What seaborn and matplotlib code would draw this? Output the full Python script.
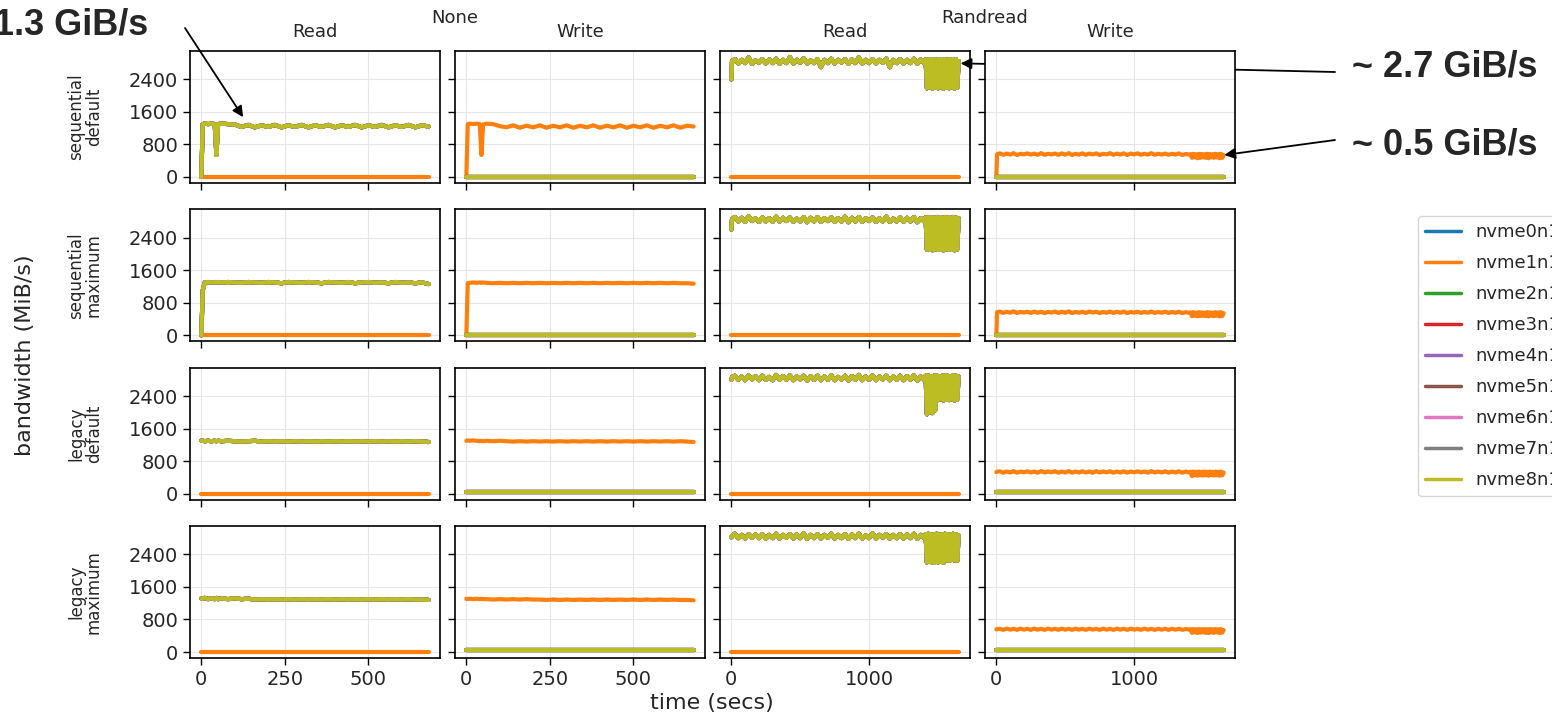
import matplotlib
matplotlib.use("Agg")
import matplotlib.pyplot as plt
import numpy as np
import pandas as pd
import seaborn as sns
from matplotlib.lines import Line2D

# ---------------- data ----------------
DEVICES = ["nvme0n1", "nvme1n1", "nvme2n1", "nvme3n1", "nvme4n1",
           "nvme5n1", "nvme6n1", "nvme7n1", "nvme8n1"]
WRITER = "nvme1n1"
ROW_LABELS = ["sequential\ndefault", "sequential\nmaximum", "legacy\ndefault", "legacy\nmaximum"]
COL_LABELS = ["Read", "Write", "Read", "Write"]
GROUP_LABELS = ["None", "Randread"]
YTICKS = [0, 800, 1600, 2400]
XTICKS_NONE = [0, 250, 500]
XTICKS_RR = [0, 1000]

# sample times (secs)
T_NONE = [0, 4, 10, 20, 30, 40, 45, 50] + list(range(60, 681, 20))
T_RR = [0, 5] + list(range(25, 1401, 25)) + list(range(1410, 1651, 10))
T_IDLE_NONE = [0, 680]
T_IDLE_RR = [0, 1650]
IDLE_ZERO = [0, 0]
IDLE_LOW = [40, 40]

# --- "None" group, MiB/s ---
SEQ_DEF_NONE_READ = [0, 1300, 1310, 1300, 1310, 1300, 540, 1300,
                     1310, 1300, 1290, 1230, 1280, 1220, 1270, 1230,
                     1280, 1220, 1270, 1230, 1280, 1220, 1270, 1230,
                     1280, 1220, 1270, 1230, 1280, 1220, 1270, 1230,
                     1280, 1220, 1270, 1230, 1280, 1220, 1270, 1240]
SEQ_DEF_NONE_WRITE = [0, 1300, 1310, 1300, 1310, 1300, 540, 1290,
                      1310, 1300, 1250, 1220, 1270, 1210, 1260, 1220,
                      1270, 1210, 1260, 1220, 1270, 1210, 1260, 1220,
                      1270, 1210, 1260, 1220, 1270, 1210, 1260, 1220,
                      1270, 1210, 1260, 1220, 1270, 1210, 1260, 1240]
SEQ_MAX_NONE_READ = [0, 1100, 1300, 1310, 1300, 1310, 1300, 1310,
                     1300, 1310, 1300, 1290, 1310, 1300, 1290, 1310,
                     1300, 1280, 1310, 1300, 1290, 1310, 1300, 1280,
                     1310, 1300, 1290, 1310, 1280, 1300, 1310, 1290,
                     1300, 1280, 1310, 1290, 1300, 1280, 1300, 1260]
SEQ_MAX_NONE_WRITE = [0, 1280, 1290, 1300, 1290, 1300, 1290, 1300,
                      1290, 1280, 1290, 1280, 1290, 1280, 1290, 1280,
                      1290, 1280, 1290, 1280, 1290, 1280, 1290, 1280,
                      1290, 1280, 1290, 1280, 1290, 1280, 1290, 1280,
                      1290, 1280, 1290, 1280, 1290, 1280, 1280, 1270]
LEG_DEF_NONE_READ = [1310, 1300, 1290, 1300, 1290, 1300, 1290, 1300,
                     1290, 1300, 1290, 1280, 1290, 1300, 1280, 1290,
                     1280, 1290, 1280, 1290, 1280, 1290, 1280, 1290,
                     1280, 1290, 1280, 1290, 1280, 1290, 1280, 1290,
                     1280, 1290, 1280, 1290, 1280, 1290, 1280, 1270]
LEG_DEF_NONE_WRITE = [1300, 1310, 1300, 1310, 1300, 1290, 1300, 1290,
                      1300, 1290, 1300, 1290, 1280, 1290, 1280, 1290,
                      1280, 1290, 1280, 1290, 1280, 1290, 1280, 1290,
                      1280, 1290, 1280, 1290, 1280, 1290, 1280, 1290,
                      1280, 1290, 1280, 1290, 1280, 1290, 1280, 1270]
LEG_MAX_NONE_READ = [1320, 1310, 1330, 1300, 1320, 1300, 1330, 1300,
                     1320, 1300, 1320, 1300, 1310, 1290, 1300, 1290,
                     1300, 1290, 1300, 1290, 1300, 1290, 1300, 1290,
                     1300, 1290, 1300, 1290, 1300, 1290, 1300, 1290,
                     1300, 1290, 1300, 1290, 1300, 1290, 1290, 1280]
LEG_MAX_NONE_WRITE = [1310, 1300, 1310, 1300, 1310, 1300, 1310, 1300,
                      1300, 1290, 1300, 1290, 1300, 1290, 1300, 1290,
                      1290, 1280, 1290, 1280, 1290, 1280, 1290, 1280,
                      1290, 1280, 1290, 1280, 1290, 1280, 1290, 1280,
                      1290, 1280, 1290, 1280, 1290, 1280, 1280, 1270]

# --- "Randread" group, MiB/s ---
SEQ_DEF_RR_READ = [2400, 2850,
                   2900, 2790, 2880, 2800, 2940, 2780, 2870, 2810,
                   2900, 2790, 2890, 2800, 2910, 2780, 2880, 2800,
                   2950, 2790, 2880, 2810, 2920, 2790, 2870, 2800,
                   2900, 2700, 2880, 2800, 2910, 2790, 2880, 2810,
                   2900, 2780, 2890, 2800, 2940, 2790, 2880, 2800,
                   2900, 2790, 2880, 2810, 2910, 2700, 2880, 2800,
                   2900, 2790, 2880, 2800, 2910, 2780, 2890, 2800,
                   2890, 2180, 2900, 2200, 2880, 2170, 2900, 2190,
                   2890, 2180, 2900, 2200, 2880, 2170, 2900, 2190,
                   2890, 2180, 2900, 2200, 2880, 2170, 2900, 2190, 2850]
SEQ_MAX_RR_READ = [2600, 2860,
                   2910, 2800, 2890, 2790, 2930, 2810, 2880, 2790,
                   2900, 2800, 2880, 2790, 2920, 2800, 2890, 2810,
                   2900, 2790, 2870, 2800, 2910, 2780, 2890, 2800,
                   2910, 2790, 2880, 2810, 2900, 2790, 2880, 2800,
                   2920, 2780, 2890, 2800, 2910, 2790, 2880, 2810,
                   2900, 2790, 2880, 2800, 2920, 2790, 2870, 2800,
                   2900, 2790, 2890, 2800, 2910, 2780, 2880, 2800,
                   2900, 2100, 2910, 2120, 2890, 2090, 2900, 2110,
                   2910, 2100, 2890, 2120, 2900, 2090, 2910, 2110,
                   2900, 2100, 2890, 2120, 2910, 2090, 2900, 2110, 2880]
LEG_DEF_RR_READ = [2800, 2870,
                   2900, 2800, 2880, 2790, 2910, 2810, 2890, 2790,
                   2900, 2800, 2870, 2790, 2920, 2800, 2890, 2800,
                   2910, 2790, 2880, 2810, 2900, 2780, 2890, 2800,
                   2900, 2790, 2880, 2800, 2910, 2790, 2870, 2810,
                   2900, 2780, 2890, 2800, 2920, 2790, 2880, 2800,
                   2910, 2790, 2880, 2810, 2900, 2790, 2880, 2800,
                   2900, 2790, 2890, 2800, 2910, 2780, 2880, 2800,
                   2900, 1950, 2910, 2000, 2890, 1980, 2900, 2050,
                   2910, 2300, 2890, 2320, 2900, 2290, 2910, 2310,
                   2900, 2300, 2890, 2320, 2910, 2290, 2900, 2310, 2880]
LEG_MAX_RR_READ = [2820, 2860,
                   2910, 2800, 2880, 2790, 2900, 2810, 2890, 2800,
                   2900, 2790, 2880, 2800, 2910, 2790, 2880, 2810,
                   2900, 2790, 2890, 2800, 2920, 2780, 2880, 2800,
                   2900, 2790, 2880, 2810, 2910, 2790, 2880, 2800,
                   2900, 2780, 2890, 2800, 2910, 2790, 2870, 2800,
                   2920, 2790, 2880, 2810, 2900, 2790, 2880, 2800,
                   2900, 2790, 2890, 2800, 2910, 2780, 2880, 2800,
                   2900, 2200, 2910, 2220, 2890, 2190, 2900, 2210,
                   2910, 2200, 2890, 2220, 2900, 2190, 2910, 2250,
                   2900, 2240, 2890, 2260, 2910, 2250, 2900, 2240, 2870]
SEQ_DEF_RR_WRITE = [0, 560,
                    580, 545, 575, 550, 585, 540, 570, 555,
                    580, 550, 575, 545, 585, 545, 570, 555,
                    575, 545, 580, 550, 585, 540, 570, 550,
                    580, 545, 575, 555, 580, 540, 570, 555,
                    585, 545, 575, 550, 580, 540, 575, 555,
                    580, 545, 570, 550, 585, 545, 570, 550,
                    575, 545, 570, 550, 580, 540, 565, 550,
                    560, 470, 570, 480, 560, 460, 570, 470,
                    565, 480, 560, 470, 570, 460, 565, 480,
                    560, 470, 570, 480, 560, 460, 570, 470, 540]
SEQ_MAX_RR_WRITE = [0, 570,
                    585, 550, 580, 555, 590, 550, 575, 560,
                    580, 550, 585, 555, 580, 545, 575, 560,
                    585, 550, 580, 555, 590, 545, 575, 555,
                    580, 550, 585, 560, 580, 545, 575, 555,
                    585, 550, 580, 555, 585, 545, 575, 560,
                    580, 550, 575, 555, 585, 550, 575, 555,
                    580, 550, 575, 555, 580, 545, 570, 550,
                    565, 470, 570, 480, 560, 465, 570, 475,
                    565, 480, 560, 470, 570, 465, 565, 480,
                    560, 470, 570, 480, 565, 465, 570, 475, 545]
LEG_DEF_RR_WRITE = [530, 540,
                    550, 515, 545, 520, 555, 515, 545, 525,
                    550, 520, 545, 515, 555, 520, 545, 525,
                    550, 515, 545, 520, 555, 515, 545, 520,
                    550, 520, 545, 515, 555, 520, 545, 525,
                    550, 515, 545, 520, 550, 515, 545, 525,
                    550, 520, 545, 515, 555, 520, 545, 520,
                    550, 515, 545, 520, 550, 515, 545, 520,
                    540, 430, 545, 450, 540, 440, 545, 450,
                    540, 445, 545, 450, 540, 440, 545, 455,
                    540, 445, 545, 450, 540, 440, 545, 450, 520]
LEG_MAX_RR_WRITE = [560, 560,
                    570, 545, 575, 550, 570, 545, 575, 550,
                    570, 545, 575, 550, 570, 545, 575, 550,
                    570, 545, 575, 550, 570, 545, 575, 550,
                    570, 545, 575, 550, 570, 545, 575, 550,
                    570, 545, 575, 550, 570, 545, 575, 550,
                    570, 545, 575, 550, 570, 545, 570, 550,
                    570, 545, 570, 550, 570, 545, 565, 550,
                    560, 470, 565, 480, 560, 465, 565, 475,
                    560, 480, 565, 470, 560, 465, 565, 480,
                    560, 470, 565, 480, 560, 465, 565, 475, 540]

# (busy time, busy values, idle time, idle values) per panel
PANELS = [
    [(T_NONE, SEQ_DEF_NONE_READ, T_IDLE_NONE, IDLE_ZERO),
     (T_NONE, SEQ_DEF_NONE_WRITE, T_IDLE_NONE, IDLE_ZERO),
     (T_RR, SEQ_DEF_RR_READ, T_IDLE_RR, IDLE_ZERO),
     (T_RR, SEQ_DEF_RR_WRITE, T_IDLE_RR, IDLE_ZERO)],
    [(T_NONE, SEQ_MAX_NONE_READ, T_IDLE_NONE, IDLE_ZERO),
     (T_NONE, SEQ_MAX_NONE_WRITE, T_IDLE_NONE, IDLE_ZERO),
     (T_RR, SEQ_MAX_RR_READ, T_IDLE_RR, IDLE_ZERO),
     (T_RR, SEQ_MAX_RR_WRITE, T_IDLE_RR, IDLE_ZERO)],
    [(T_NONE, LEG_DEF_NONE_READ, T_IDLE_NONE, IDLE_ZERO),
     (T_NONE, LEG_DEF_NONE_WRITE, T_IDLE_NONE, IDLE_LOW),
     (T_RR, LEG_DEF_RR_READ, T_IDLE_RR, IDLE_ZERO),
     (T_RR, LEG_DEF_RR_WRITE, T_IDLE_RR, IDLE_LOW)],
    [(T_NONE, LEG_MAX_NONE_READ, T_IDLE_NONE, IDLE_ZERO),
     (T_NONE, LEG_MAX_NONE_WRITE, T_IDLE_NONE, IDLE_LOW),
     (T_RR, LEG_MAX_RR_READ, T_IDLE_RR, IDLE_ZERO),
     (T_RR, LEG_MAX_RR_WRITE, T_IDLE_RR, IDLE_LOW)],
]

# ---------------- plot ----------------
sns.set_theme(style="ticks")
plt.rcParams['font.family'] = ['DejaVu Sans']

W, H = 1552, 716
palette = dict(zip(DEVICES, sns.color_palette("tab10", len(DEVICES))))

fig, axes = plt.subplots(4, 4, figsize=(W / 100, H / 100), dpi=100,
                         sharex='col', sharey=True)
fig.subplots_adjust(left=190 / W, right=1235 / W, top=1 - 51 / H,
                    bottom=1 - 658 / H, wspace=0.06, hspace=0.2)

for r in range(4):
    for c in range(4):
        ax = axes[r, c]
        bt, bv, it, iv = PANELS[r][c]
        if COL_LABELS[c] == "Write":
            busy = [WRITER]
        else:
            busy = [d for d in DEVICES if d != WRITER]
        frames = []
        for d in DEVICES:
            t, v = (bt, bv) if d in busy else (it, iv)
            frames.append(pd.DataFrame({"time": t, "bw": v, "device": d}))
        df = pd.concat(frames, ignore_index=True)
        sns.lineplot(data=df, x="time", y="bw", hue="device", hue_order=DEVICES,
                     palette=palette, estimator=None, sort=False, lw=3,
                     legend=False, ax=ax, solid_capstyle="round")
        ax.set_xlabel("")
        ax.set_ylabel("")
        ax.grid(True, color="#e6e6e6", lw=0.8)
        ax.set_axisbelow(True)
        for sp in ax.spines.values():
            sp.set_color("black")
            sp.set_linewidth(1.2)
        ax.tick_params(labelsize=14, length=5, width=1.0, color="black")
        if r == 0:
            ax.set_title(COL_LABELS[c], fontsize=13, pad=10)

axes[0, 0].set_yticks(YTICKS)
for c in range(4):
    axes[3, c].set_xticks(XTICKS_NONE if c < 2 else XTICKS_RR)

# row labels
for r in range(4):
    pos = axes[r, 0].get_position()
    fig.text(85 / W, pos.y0 + pos.height / 2, ROW_LABELS[r], rotation=90,
             ha="center", va="center", fontsize=12, linespacing=1.0)

# group titles
fig.text(455 / W, 1 - 18 / H, GROUP_LABELS[0], ha="center", va="center", fontsize=13)
fig.text(985 / W, 1 - 18 / H, GROUP_LABELS[1], ha="center", va="center", fontsize=13)

# axis labels
fig.text(712 / W, 1 - 703 / H, "time (secs)", ha="center", va="center", fontsize=16)
fig.text(25 / W, 1 - 355 / H, "bandwidth (MiB/s)", rotation=90, ha="center",
         va="center", fontsize=16)

# legend
handles = [Line2D([0], [0], color=palette[d], lw=2.5) for d in DEVICES]
fig.legend(handles, DEVICES, loc="upper left",
           bbox_to_anchor=(1418 / W, 1 - 216 / H), fontsize=13, frameon=True,
           borderaxespad=0, fancybox=True, edgecolor="#cccccc",
           labelspacing=0.72)

# annotations
ann_font = dict(fontfamily=["Liberation Sans", "DejaVu Sans"], fontweight="bold",
                fontsize=26)
fig.text(148 / W, 1 - 25 / H, "~ 1.3 GiB/s", ha="right", va="center", **ann_font)
fig.text(1352 / W, 1 - 67 / H, "~ 2.7 GiB/s", ha="left", va="center", **ann_font)
fig.text(1352 / W, 1 - 145 / H, "~ 0.5 GiB/s", ha="left", va="center", **ann_font)

arrow = dict(arrowstyle="-|>", color="black", lw=1.3, mutation_scale=16,
             shrinkA=0, shrinkB=0)
axes[0, 0].annotate("", xy=(125, 1470), xycoords="data",
                    xytext=(185, H - 28), textcoords="figure pixels",
                    arrowprops=arrow)
axes[0, 2].annotate("", xy=(1664, 2794), xycoords="data",
                    xytext=(1335, H - 72), textcoords="figure pixels",
                    arrowprops=arrow)
axes[0, 3].annotate("", xy=(1655, 540), xycoords="data",
                    xytext=(1335, H - 140), textcoords="figure pixels",
                    arrowprops=arrow)

fig.savefig("out.png", dpi=100, facecolor="white")
